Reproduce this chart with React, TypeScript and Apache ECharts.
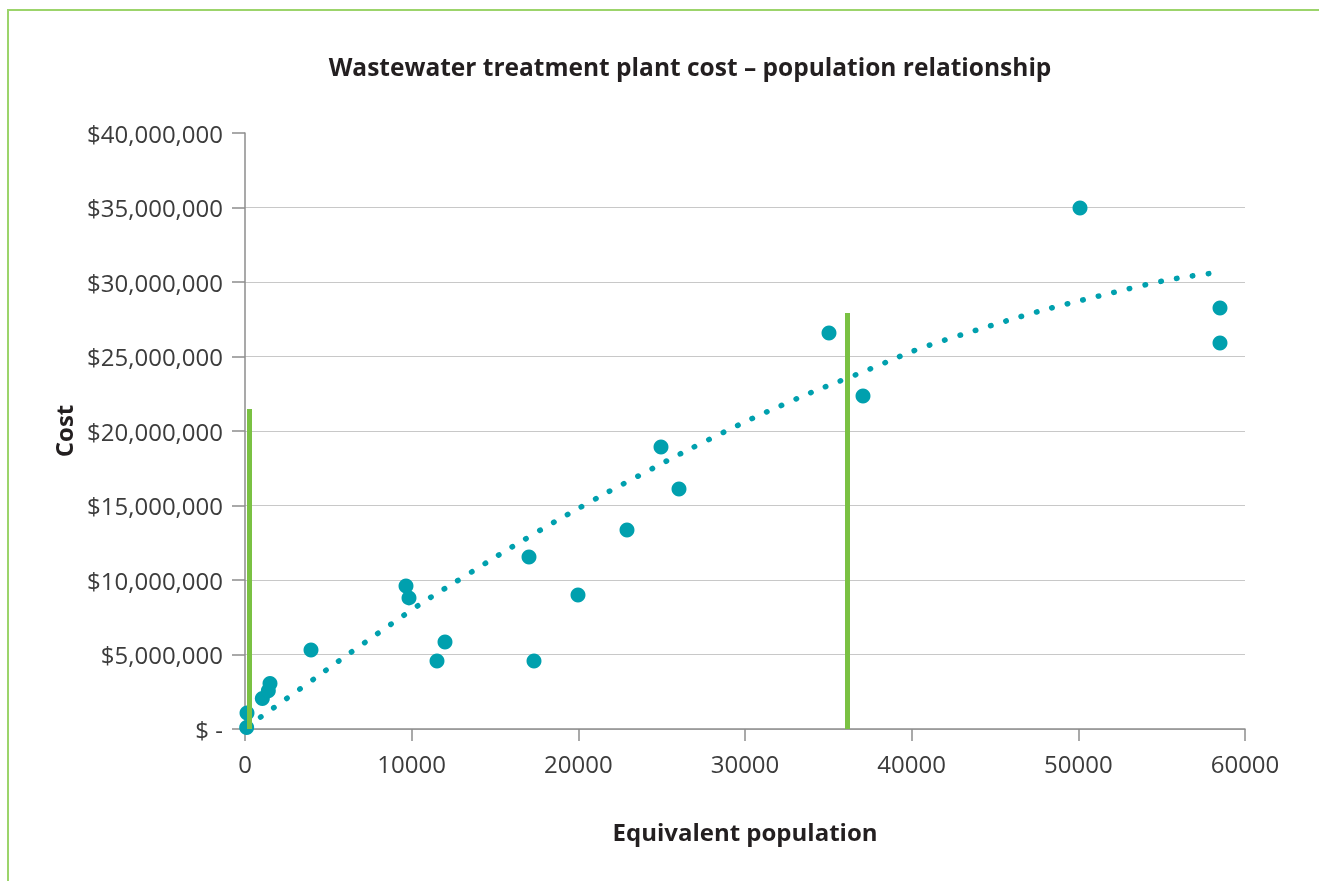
import React, { useEffect, useRef } from "react";
import * as echarts from "echarts";

const title = "Wastewater treatment plant cost – population relationship";
const xAxisName = "Equivalent population";
const yAxisName = "Cost";

// Scatter observations: equivalent population and plant cost
const population = [100, 120, 1040, 1400, 1500, 3960, 9660, 9840, 11520, 12000, 17040, 17340, 19980, 22920, 24960, 26040, 35040, 37080, 50100, 58500, 58500];
const cost = [100000, 1070000, 2050000, 2570000, 3060000, 5300000, 9600000, 8800000, 4560000, 5840000, 11540000, 4560000, 9000000, 13360000, 18930000, 16100000, 26580000, 22350000, 34970000, 28260000, 25900000];

// Trend line points
const trendX = [150, 1000, 9700, 12980, 17120, 20480, 23020, 28220, 32620, 36260, 42540, 53780, 58500];
const trendY = [180000, 850000, 7760000, 10110000, 12950000, 15100000, 16640000, 19640000, 21930000, 23600000, 26300000, 29750000, 30650000];

// Vertical green markers
const markerX = [270, 36150];
const markerTop = [21480000, 27920000];

const xTicks = { min: 0, max: 60000, interval: 10000 };
const yTicks = { min: 0, max: 40000000, interval: 5000000 };

const FONT = "'Open Sans', 'Noto Sans', sans-serif";

export default function App() {
  const ref = useRef<HTMLDivElement>(null);
  useEffect(() => {
    if (!ref.current) return;
    const chart = echarts.init(ref.current, null, { renderer: "svg" });
    const markerSeries = markerX.map((x, i) => ({
      type: "line",
      data: [
        [x, 0],
        [x, markerTop[i]],
      ],
      symbol: "none",
      lineStyle: { color: "#7ac143", width: 5, cap: "butt" },
      z: 5,
      silent: true,
    }));
    chart.setOption({
      animation: false,
      backgroundColor: "transparent",
      textStyle: { fontFamily: FONT },
      grid: { left: 245, top: 133, right: 74, bottom: 152, containLabel: false },
      graphic: [
        {
          type: "text",
          x: 690,
          y: 66,
          style: {
            text: title,
            font: `bold 24.5px ${FONT}`,
            fill: "#231f20",
            textAlign: "center",
            textVerticalAlign: "middle",
          },
        },
      ],
      xAxis: {
        type: "value",
        min: xTicks.min,
        max: xTicks.max,
        interval: xTicks.interval,
        name: xAxisName,
        nameLocation: "middle",
        nameGap: 90,
        nameTextStyle: { fontFamily: FONT, fontSize: 24, fontWeight: "bold", color: "#231f20" },
        axisLine: { show: true, lineStyle: { color: "#8c8c8c", width: 1.5 } },
        axisTick: { show: true, length: 12, lineStyle: { color: "#8c8c8c", width: 1.5 } },
        axisLabel: {
          fontFamily: FONT,
          fontSize: 24,
          color: "#3c3c3c",
          margin: 22,
          formatter: (v: number) => String(v),
        },
        splitLine: { show: false },
      },
      yAxis: {
        type: "value",
        min: yTicks.min,
        max: yTicks.max,
        interval: yTicks.interval,
        name: yAxisName,
        nameLocation: "middle",
        nameGap: 170,
        nameRotate: 90,
        nameTextStyle: { fontFamily: FONT, fontSize: 24, fontWeight: "bold", color: "#231f20" },
        axisLine: { show: true, lineStyle: { color: "#8c8c8c", width: 1.5 } },
        axisTick: { show: true, length: 13, lineStyle: { color: "#8c8c8c", width: 1.5 } },
        axisLabel: {
          fontFamily: FONT,
          fontSize: 24,
          color: "#3c3c3c",
          margin: 22,
          formatter: (v: number) => (v === 0 ? "$ -" : "$" + v.toLocaleString("en-US")),
        },
        splitLine: { show: true, showMaxLine: false, lineStyle: { color: "#c8c8c8", width: 1.2 } },
      },
      series: [
        {
          type: "line",
          data: trendX.map((x, i) => [x, trendY[i]]),
          smooth: true,
          symbol: "none",
          lineStyle: { color: "#00a0ae", width: 5.5, type: [0.5, 15.5], cap: "round" },
          z: 2,
          silent: true,
        },
        {
          type: "scatter",
          data: population.map((x, i) => [x, cost[i]]),
          symbolSize: 15,
          itemStyle: { color: "#00a0ae", opacity: 1 },
          z: 3,
        },
        ...markerSeries,
      ],
    });
    return () => chart.dispose();
  }, []);
  return (
    <>
      <div
        style={{
          position: "fixed",
          left: 7,
          top: 9,
          width: 1400,
          height: 1000,
          borderTop: "2px solid #9cd46b",
          borderLeft: "2px solid #9cd46b",
        }}
      />
      <div ref={ref} style={{ position: "fixed", left: 0, top: 0, width: 1319, height: 881 }} />
    </>
  );
}
